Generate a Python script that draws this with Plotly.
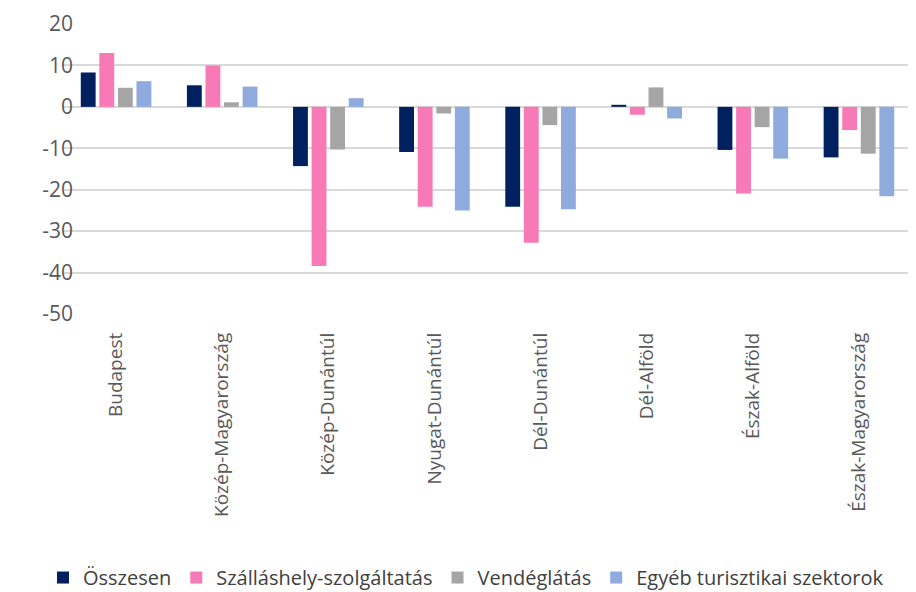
import plotly.graph_objects as go

regions = ["Budapest", "Közép-Magyarország", "Közép-Dunántúl", "Nyugat-Dunántúl",
           "Dél-Dunántúl", "Dél-Alföld", "Észak-Alföld", "Észak-Magyarország"]
osszesen = [8.3, 5.2, -14.3, -10.9, -24.1, 0.5, -10.4, -12.2]
szallas = [13.0, 10.0, -38.4, -24.1, -32.8, -1.9, -20.9, -5.6]
vendeg = [4.6, 1.1, -10.3, -1.6, -4.4, 4.7, -4.9, -11.3]
egyeb = [6.2, 4.9, 2.1, -25.0, -24.7, -2.8, -12.5, -21.6]
series_names = ["Összesen", "Szálláshely-szolgáltatás", "Vendéglátás", "Egyéb turisztikai szektorok"]
y_ticks = [20, 10, 0, -10, -20, -30, -40, -50]

colors = ["#002060", "#F779B6", "#A5A5A5", "#8FAADC"]

fig = go.Figure()
for name, vals, col in zip(series_names, [osszesen, szallas, vendeg, egyeb], colors):
    fig.add_trace(go.Bar(x=regions, y=vals, name=name, marker_color=col,
                         marker_line_width=0))

font_family = "Open Sans, Liberation Sans, sans-serif"
fig.update_layout(
    width=916, height=592,
    margin=dict(l=55, r=12, t=16, b=286, autoexpand=False),
    paper_bgcolor="white", plot_bgcolor="white",
    barmode="group", bargap=0.3, bargroupgap=0.2,
    font=dict(family=font_family, color="#595959"),
    showlegend=True,
    legend=dict(orientation="h", xref="container", yref="container",
                x=0.5, xanchor="center", y=0.005, yanchor="bottom",
                font=dict(size=20, color="#404040"), itemwidth=30,
                traceorder="normal"),
)
fig.update_xaxes(tickangle=-90, tickfont=dict(size=19, color="#595959"),
                 showline=False, showgrid=False, ticks="", ticklabelstandoff=14)
fig.update_yaxes(range=[-50, 20], tickvals=y_ticks, ticktext=[str(v) for v in y_ticks],
                 tickfont=dict(size=21, color="#595959"),
                 showgrid=True, gridcolor="#D9D9D9", gridwidth=1.5,
                 zeroline=True, zerolinecolor="#D9D9D9", zerolinewidth=1.5,
                 showline=False, ticks="", ticklen=0,
                 anchor="free", position=0, shift=10, autoshift=False)

fig.write_html("out.html")
